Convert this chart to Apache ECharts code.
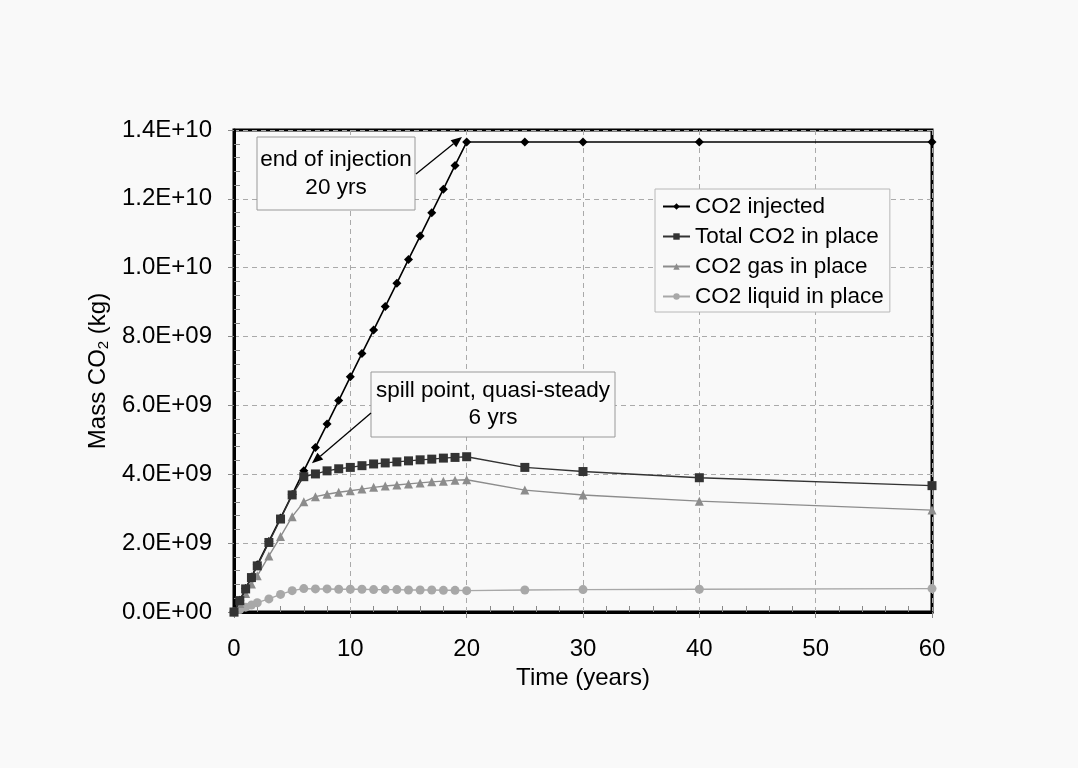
<!DOCTYPE html>
<html>
<head>
<meta charset="utf-8">
<title>Mass of CO2 versus time</title>
<script src="https://cdn.jsdelivr.net/npm/echarts@6/dist/echarts.min.js"></script>
<style>
  html, body { margin: 0; padding: 0; background: #f9f9f9; }
  #chart { width: 1078px; height: 768px; }
</style>
</head>
<body>
<div id="chart"></div>
<script>
// Time since start of injection (years)
const times = [0, 0.5, 1, 1.5, 2, 3, 4, 5, 6, 7, 8, 9, 10, 11, 12, 13, 14, 15, 16, 17, 18, 19, 20, 25, 30, 40, 60];

// Masses of CO2 (kg)
const co2Injected = [0, 0.34e9, 0.68e9, 1.02e9, 1.37e9, 2.05e9, 2.73e9, 3.41e9, 4.10e9, 4.78e9, 5.46e9, 6.14e9, 6.83e9, 7.51e9, 8.19e9, 8.87e9, 9.55e9, 10.24e9, 10.92e9, 11.60e9, 12.28e9, 12.97e9, 13.65e9, 13.65e9, 13.65e9, 13.65e9, 13.65e9];
const totalInPlace = [0, 0.33e9, 0.67e9, 1.00e9, 1.34e9, 2.02e9, 2.70e9, 3.40e9, 3.93e9, 4.01e9, 4.10e9, 4.16e9, 4.20e9, 4.25e9, 4.30e9, 4.33e9, 4.36e9, 4.39e9, 4.42e9, 4.44e9, 4.47e9, 4.49e9, 4.51e9, 4.20e9, 4.08e9, 3.90e9, 3.67e9];
const gasInPlace = [0, 0.25e9, 0.54e9, 0.81e9, 1.05e9, 1.63e9, 2.19e9, 2.77e9, 3.20e9, 3.35e9, 3.42e9, 3.48e9, 3.52e9, 3.57e9, 3.62e9, 3.66e9, 3.69e9, 3.72e9, 3.75e9, 3.78e9, 3.80e9, 3.83e9, 3.84e9, 3.54e9, 3.40e9, 3.22e9, 2.96e9];
const liquidInPlace = [0, 0.07e9, 0.14e9, 0.20e9, 0.27e9, 0.38e9, 0.51e9, 0.62e9, 0.68e9, 0.67e9, 0.67e9, 0.66e9, 0.66e9, 0.66e9, 0.65e9, 0.65e9, 0.65e9, 0.64e9, 0.64e9, 0.64e9, 0.63e9, 0.63e9, 0.62e9, 0.64e9, 0.65e9, 0.66e9, 0.68e9];

const seriesNames = ['CO2 injected', 'Total CO2 in place', 'CO2 gas in place', 'CO2 liquid in place'];

// Axis tick labels
const xTickLabels = ['0', '10', '20', '30', '40', '50', '60'];
const yTickLabels = ['0.0E+00', '2.0E+09', '4.0E+09', '6.0E+09', '8.0E+09', '1.0E+10', '1.2E+10', '1.4E+10'];

// Annotation callouts: text and the data point each arrow points at
const endOfInjectionText = 'end of injection\n20 yrs';
const endOfInjectionTip = [19.6, 13.8e9];
const spillPointText = 'spill point, quasi-steady\n6 yrs';
const spillPointTip = [6.7, 4.32e9];

const FONT = '"Liberation Sans", Arial, Helvetica, sans-serif';

function pairs(ys) { return times.map((t, i) => [t, ys[i]]); }

const chart = echarts.init(document.getElementById('chart'), null, { renderer: 'canvas' });

function lineSeries(name, ys, symbol, size, color, lw, z) {
  return {
    name: name,
    type: 'line',
    data: pairs(ys),
    symbol: symbol,
    symbolSize: size,
    showAllSymbol: true,
    z: z,
    lineStyle: { color: color, width: lw },
    itemStyle: { color: color, borderWidth: 0 },
    emphasis: { disabled: true },
    animation: false
  };
}

chart.setOption({
  backgroundColor: '#f9f9f9',
  animation: false,
  textStyle: { fontFamily: FONT },
  grid: {
    left: 234, top: 130, right: 146, bottom: 156,
    show: true, borderColor: '#000', borderWidth: 3, backgroundColor: 'transparent'
  },
  legend: {
    data: seriesNames,
    orient: 'vertical',
    left: 655, top: 189,
    backgroundColor: '#f9f9f9',
    borderColor: '#b8b8b8', borderWidth: 1, borderRadius: 0,
    padding: [6, 6, 4, 7],
    itemGap: 7,
    itemWidth: 27, itemHeight: 8,
    textStyle: { fontSize: 22.5, color: '#000', fontFamily: FONT },
    selectedMode: false
  },
  xAxis: {
    type: 'value', min: 0, max: 60, interval: 10,
    name: 'Time (years)', nameLocation: 'middle', nameGap: 50,
    nameTextStyle: { fontSize: 24, color: '#000', fontFamily: FONT },
    axisLine: { show: true, lineStyle: { color: '#000', width: 3 } },
    axisTick: { show: true, inside: false, length: 6, lineStyle: { color: '#888', width: 1 } },
    minorTick: { show: true, splitNumber: 5, length: -6, lineStyle: { color: '#888', width: 1 } },
    axisLabel: {
      fontSize: 24, color: '#000', margin: 25, fontFamily: FONT,
      formatter: v => xTickLabels[Math.round(v / 10)]
    },
    splitLine: { show: true, lineStyle: { color: '#aaa', width: 1, type: [5, 4] } }
  },
  yAxis: {
    type: 'value', min: 0, max: 1.4e10, interval: 2e9,
    name: 'Mass CO{sub|2} (kg)', nameLocation: 'middle', nameGap: 118, nameRotate: 90,
    nameTextStyle: {
      fontSize: 24, color: '#000', fontFamily: FONT,
      rich: { sub: { fontSize: 15, color: '#000', fontFamily: FONT, verticalAlign: 'bottom', padding: [10, 0, 0, 0] } }
    },
    axisLine: { show: true, lineStyle: { color: '#000', width: 3 } },
    axisTick: { show: true, inside: false, length: 6, lineStyle: { color: '#888', width: 1 } },
    minorTick: { show: true, splitNumber: 5, length: -6, lineStyle: { color: '#888', width: 1 } },
    axisLabel: {
      fontSize: 24, color: '#000', margin: 22, fontFamily: FONT,
      formatter: v => yTickLabels[Math.round(v / 2e9)]
    },
    splitLine: { show: true, lineStyle: { color: '#aaa', width: 1, type: [5, 4] } }
  },
  series: [
    lineSeries(seriesNames[0], co2Injected, 'diamond', 9, '#000', 1.6, 5),
    lineSeries(seriesNames[1], totalInPlace, 'rect', 9, '#333', 1.4, 6),
    lineSeries(seriesNames[2], gasInPlace, 'triangle', 9, '#8c8c8c', 1.4, 4),
    lineSeries(seriesNames[3], liquidInPlace, 'circle', 9, '#a8a8a8', 1.4, 3)
  ]
});

// Callout boxes with arrows pointing at chart points
function arrow(from, to) {
  const dx = to[0] - from[0], dy = to[1] - from[1];
  const len = Math.hypot(dx, dy);
  const ux = dx / len, uy = dy / len;
  const L = 11, W = 4.5;
  const bx = to[0] - ux * L, by = to[1] - uy * L;
  return [
    { type: 'line', z: 20, shape: { x1: from[0], y1: from[1], x2: bx, y2: by }, style: { stroke: '#000', lineWidth: 1.3 } },
    { type: 'polygon', z: 20, shape: { points: [[to[0], to[1]], [bx - uy * W, by + ux * W], [bx + uy * W, by - ux * W]] }, style: { fill: '#000' } }
  ];
}

function callout(x, y, w, h, text, lineHeight) {
  return [
    { type: 'rect', z: 20, shape: { x: x, y: y, width: w, height: h }, style: { fill: '#f9f9f9', stroke: '#999', lineWidth: 1 } },
    { type: 'text', z: 21, style: { x: x + w / 2, y: y + h / 2, text: text, align: 'center', verticalAlign: 'middle', fontSize: 22.5, fontFamily: FONT, lineHeight: lineHeight, fill: '#000' } }
  ];
}

const tip1 = chart.convertToPixel({ gridIndex: 0 }, endOfInjectionTip);
const tip2 = chart.convertToPixel({ gridIndex: 0 }, spillPointTip);

chart.setOption({
  graphic: [].concat(
    callout(257, 137, 158, 73, endOfInjectionText, 28),
    arrow([416, 174], tip1),
    callout(371, 372, 244, 65, spillPointText, 27),
    arrow([371, 413], tip2)
  )
});
</script>
</body>
</html>
